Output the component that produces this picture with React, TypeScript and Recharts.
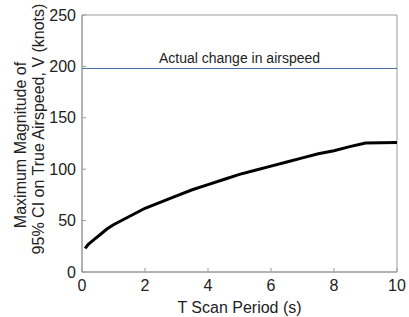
import React from 'react';
import { LineChart, Line, XAxis, YAxis, ReferenceLine, ReferenceArea } from 'recharts';

// T scan period (s) and max magnitude of 95% CI (knots)
const scanPeriod = [0.1, 0.2, 0.4, 0.6, 0.8, 1, 1.5, 2, 2.5, 3, 3.5, 4, 4.5, 5, 5.5, 6, 6.5, 7, 7.5, 8, 8.5, 9, 10];
const ciMagnitude = [23, 27, 32, 37, 42, 46, 54, 62, 68, 74, 80, 85, 90, 95, 99, 103, 107, 111, 115, 118, 122, 125.5, 126];
const actualChange = 198;
const xTicks = [0, 2, 4, 6, 8, 10];
const yTicks = [0, 50, 100, 150, 200, 250];

const data = scanPeriod.map((t, i) => ({ t, v: ciMagnitude[i] }));

const font = 'Liberation Sans, Arial, sans-serif';
const axisColor = '#9a9a9a';
const tickStyle = { fontSize: 16, fill: '#222', fontFamily: font };

const YLabel = () => (
  <g fontFamily={font} fontSize={16} fill="#222" textAnchor="middle">
    <text transform="translate(20, 145) rotate(-90)" dy="0.35em">Maximum Magnitude of</text>
    <text transform="translate(38, 129) rotate(-90)" dy="0.35em">95% CI on True Airspeed, V (knots)</text>
  </g>
);

export default function App() {
  return (
    <div style={{ position: 'absolute', left: 0, top: 0, width: 409, height: 317, background: '#fff' }}>
      <LineChart width={409} height={317} data={data} margin={{ top: 15, right: 12, bottom: 0, left: 0 }}>
        <XAxis
          dataKey="t"
          type="number"
          domain={[0, 10]}
          ticks={xTicks}
          stroke={axisColor}
          tickSize={-4}
          tickMargin={12}
          tick={tickStyle}
          height={45}
          label={{ value: 'T Scan Period (s)', position: 'insideBottom', offset: 4, style: { fontSize: 16, fill: '#222', fontFamily: font } }}
        />
        <YAxis
          type="number"
          domain={[0, 250]}
          ticks={yTicks}
          stroke={axisColor}
          tickSize={-4}
          tickMargin={10}
          tick={tickStyle}
          width={82}
          label={{ content: YLabel }}
        />
        {/* box frame around the whole plot area */}
        <ReferenceArea
          x1={0}
          x2={10}
          y1={0}
          y2={250}
          stroke={axisColor}
          strokeWidth={1}
          fill="none"
          fillOpacity={0}
          ifOverflow="visible"
        />
        <ReferenceLine
          y={actualChange}
          stroke="#3f6fa8"
          strokeWidth={1}
          label={{ value: 'Actual change in airspeed', position: 'top', offset: 5, style: { fontSize: 14, fill: '#222', fontFamily: font } }}
        />
        <Line
          type="linear"
          dataKey="v"
          stroke="#000"
          strokeWidth={3}
          dot={false}
          isAnimationActive={false}
        />
      </LineChart>
    </div>
  );
}
